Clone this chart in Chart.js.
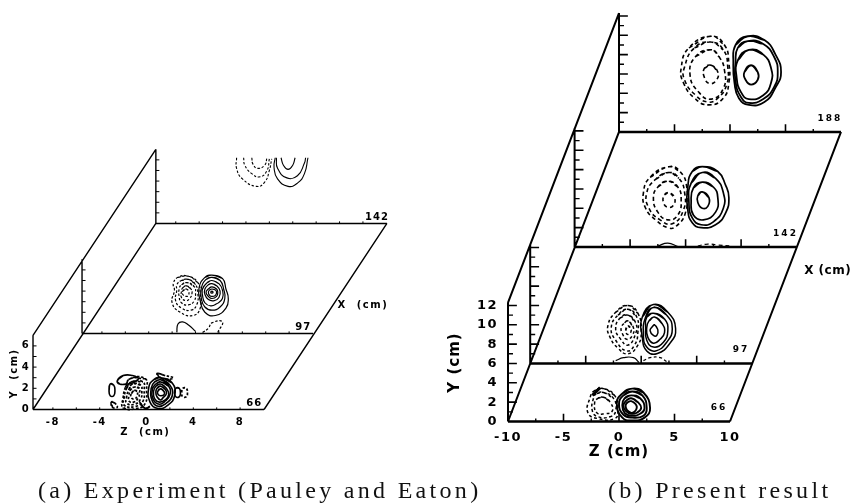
<!DOCTYPE html>
<html>
<head>
<meta charset="utf-8">
<title>Experiment and present result</title>
<script src="https://cdn.jsdelivr.net/npm/chart.js@4"></script>
<style>
body{margin:0;background:#fff;}
#wrap{position:relative;width:858px;height:503px;overflow:hidden;}
.cap{position:absolute;top:477px;font-family:"Liberation Serif",serif;font-size:24px;color:#111;white-space:pre;letter-spacing:3.3px;}
</style>
</head>
<body>
<div id="wrap">
<canvas id="plot" width="858" height="503"></canvas>
<div class="cap" style="left:38px">(a) Experiment (Pauley and Eaton)</div>
<div class="cap" style="left:608px">(b) Present result</div>
</div>
<script>
// tick labels
var leftZTicks=[-8,-4,0,4,8];
var leftYTicks=[0,2,4,6];
var rightZTicks=[-10,-5,0,5,10];
var rightYTicks=[0,2,4,6,8,10,12];
// tick marks
var leftZMarks=[-8,-6,-4,-2,0,2,4,6,8];
var leftYMarks=[1,2,3,4,5,6];
var rightZMajor=[-5,0,5];
var rightZMinor=[-7.5,-2.5,2.5,7.5];
var rightYMajor=[2,4,6,8,10,12];
var rightYMinor=[1,3,5,7,9,11];
// x stations and how far each plane sits from the first one on the page (cm of Z and Y)
var leftStations=["66","97","142"];
var leftShiftZ=[0,4.19,10.5];
var leftShiftY=[0,7.17,17.55];
var rightStations=["66","97","142","188"];
var rightShiftZ=[0,2,6,10];
var rightShiftY=[0,6,18.05,29.94];

// contours, [z,y] in cm on each plane
var left142Solid=[
	[[0.5,6.2],[0.4,5.3],[0.7,4.2],[1.6,3.5],[2.4,3.8],[3.0,4.7],[3.3,6.2]],
	[[0.6,6.2],[0.7,5.2],[1.5,4.3],[2.4,4.5],[3.0,5.7],[3.1,6.2]],
	[[1.0,6.2],[1.2,5.5],[1.6,5.1],[2.0,5.5],[2.2,6.2]]
];
var left142Dashed=[
	[[-2.8,6.2],[-2.8,5.2],[-2.3,4.2],[-1.1,3.5],[-0.4,3.9],[0,5.0],[0.2,6.1]],
	[[-2.2,6.2],[-2.1,5.5],[-1.5,4.7],[-0.8,4.4],[-0.2,5.0],[0,6.1]],
	[[-1.5,6.2],[-1.4,5.6],[-1.0,5.2],[-0.4,5.5],[-0.2,6.2]]
];
var left97Solid=[
	[[1.4,5.5],[2.3,5.2],[2.6,4.2],[2.8,3.3],[2.6,2.4],[1.7,1.7],[0.8,2.0],[0.4,3.1],[0.3,4.3],[0.8,5.3]],
	[[1.4,5.3],[2.1,5.0],[2.4,4.2],[2.5,3.3],[2.1,2.5],[1.4,2.2],[0.8,2.5],[0.5,3.3],[0.5,4.3],[0.9,5.1]],
	[[1.4,5.0],[2.0,4.7],[2.3,4.1],[2.3,3.3],[1.8,2.8],[1.3,2.6],[0.8,2.9],[0.6,3.6],[0.6,4.2],[1.0,4.8]],
	[[1.4,4.7],[1.8,4.5],[2.1,4.0],[2.0,3.4],[1.6,3.1],[1.1,3.2],[0.8,3.7],[0.8,4.2],[1.1,4.6]],
	[[1.4,4.4],[1.8,4.2],[1.9,3.9],[1.8,3.5],[1.4,3.3],[1.1,3.5],[0.9,3.9],[1.1,4.2]],
	[[1.4,4.2],[1.7,4.1],[1.8,3.9],[1.7,3.6],[1.4,3.5],[1.2,3.6],[1.1,3.9],[1.2,4.1]],
	[[1.4,4.0],[1.5,3.9],[1.4,3.8],[1.3,3.9]]
];
var left97Dashed=[
	[[-0.6,5.4],[0.2,4.8],[0.4,3.8],[0.4,2.4],[-0.2,1.7],[-1.3,2.0],[-2.0,2.9],[-1.8,4.1],[-1.9,4.7],[-1.5,5.3]],
	[[-0.6,5.1],[0,4.6],[0.2,3.8],[0.1,2.7],[-0.4,2.2],[-1.2,2.4],[-1.7,3.1],[-1.6,4.1],[-1.6,4.6],[-1.2,5.0]],
	[[-0.7,4.8],[-0.1,4.4],[0,3.8],[-0.1,3.1],[-0.6,2.7],[-1.2,2.9],[-1.4,3.5],[-1.4,4.2],[-1.2,4.6]],
	[[-0.8,4.5],[-0.4,4.2],[-0.3,3.8],[-0.5,3.3],[-0.8,3.1],[-1.2,3.4],[-1.2,4.0],[-1.1,4.3]],
	[[-0.8,4.2],[-0.6,4.0],[-0.6,3.6],[-0.8,3.5],[-1.1,3.7],[-1.1,4.0]]
];
var left97SolidOpen=[[[-1.6,0.1],[-1.5,0.9],[-1.1,1.1],[-0.6,0.8],[0,0.2]]];
var left97DashedOpen=[[[0.6,0.1],[1.1,0.5],[1.4,1.0],[2.3,1.1],[1.9,0.1]]];
var left66Solid=[
	[[1.2,3.0],[2.2,2.5],[2.4,1.3],[1.8,0.4],[1.0,0.1],[0.3,0.7],[0.2,2.1],[0.6,2.8]],
	[[1.2,2.8],[2.0,2.3],[2.2,1.3],[1.7,0.6],[1.0,0.3],[0.5,0.8],[0.4,2.0],[0.7,2.6]],
	[[1.2,2.6],[1.9,2.2],[2.0,1.4],[1.6,0.8],[1.1,0.5],[0.6,0.9],[0.5,1.9],[0.8,2.4]],
	[[1.2,2.4],[1.7,2.0],[1.9,1.4],[1.6,0.9],[1.1,0.7],[0.7,1.0],[0.6,1.7],[0.8,2.2]],
	[[1.2,2.2],[1.6,1.9],[1.7,1.5],[1.4,1.1],[1.2,0.9],[0.9,1.2],[0.8,1.6],[0.9,2.0]],
	[[1.2,1.95],[1.5,1.7],[1.5,1.4],[1.2,1.3],[1.0,1.4],[0.95,1.7]],
	[[-2.5,2.7],[-2.0,3.2],[-1.2,3.2],[-0.7,2.9],[-1.2,2.5],[-1.7,2.4],[-2.3,2.4]],
	[[-3.1,2.4],[-2.8,2.3],[-2.7,1.8],[-2.8,1.3],[-3.1,1.3],[-3.2,1.8]],
	[[2.5,2.0],[2.8,2.0],[2.9,1.5],[2.8,1.2],[2.5,1.2],[2.4,1.6]]
];
var left66Dashed=[
	[[-1.4,2.9],[-0.1,2.9],[0,1.8],[-0.1,0.6],[-0.8,0.1],[-2.0,0.2],[-2.0,1.1],[-1.8,2.1]],
	[[-1.3,2.6],[-0.3,2.6],[-0.2,1.8],[-0.3,0.8],[-0.9,0.3],[-1.9,0.4],[-1.9,1.2],[-1.7,2.0]],
	[[-1.2,2.4],[-0.5,2.3],[-0.4,1.7],[-0.5,1.0],[-1.0,0.5],[-1.7,0.6],[-1.7,1.2],[-1.5,1.9]],
	[[-1.1,2.1],[-0.6,2.0],[-0.6,1.6],[-0.7,1.1],[-1.1,0.7],[-1.5,0.8],[-1.5,1.3],[-1.4,1.8]],
	[[-1.0,1.8],[-0.8,1.7],[-0.8,1.3],[-1.0,1.0],[-1.3,1.1],[-1.3,1.5]],
	[[3.1,2.0],[3.4,2.0],[3.5,1.5],[3.4,1.2],[3.1,1.2],[3.0,1.6]],
	[[0.9,3.4],[1.6,3.2],[2.3,3.0],[2.2,2.9],[1.3,2.9]],
	[[-3.0,0.7],[-2.7,0.6],[-2.5,0.2],[-2.9,0.2]]
];
var left66SolidOpen=[[[-0.6,0.7],[-0.1,0.1],[0.3,0.3]]];

var right188Solid=[
	[[1.6,9.9],[3.1,9.5],[4.1,8.0],[4.6,6.2],[4.1,4.6],[3.1,3.1],[1.7,2.8],[0.8,3.5],[0.4,5.1],[0.3,7.1],[0.5,9.0]],
	[[1.6,9.4],[3.0,9.1],[4.0,7.7],[4.3,6.2],[4.0,4.7],[3.0,3.4],[1.7,3.0],[1.0,3.6],[0.5,5.2],[0.5,7.2],[0.7,8.7]],
	[[1.7,8.5],[3.0,8.0],[3.7,6.6],[3.7,5.1],[3.0,3.8],[1.7,3.4],[1.0,4.1],[0.6,5.6],[0.7,7.4]],
	[[1.9,6.9],[2.5,6.2],[2.5,5.4],[1.9,4.9],[1.4,5.4],[1.3,6.2]]
];
var right188Dashed=[
	[[-1.7,9.9],[-0.5,9.0],[-0.1,7.1],[-0.1,5.1],[-0.6,3.5],[-1.9,2.8],[-3.2,3.5],[-4.2,5.1],[-4.4,6.6],[-3.7,8.7]],
	[[-1.7,9.3],[-0.6,8.5],[-0.2,6.7],[-0.3,4.9],[-1.1,3.5],[-2.0,3.1],[-3.1,3.8],[-4.1,5.4],[-4.1,6.7],[-3.2,8.7]],
	[[-1.7,8.5],[-1.0,7.8],[-0.5,6.4],[-0.6,4.5],[-1.7,3.4],[-2.8,4.1],[-3.6,5.9],[-3.1,7.8]],
	[[-1.7,6.9],[-1.1,6.2],[-1.2,5.4],[-1.8,5.0],[-2.3,5.6],[-2.3,6.6]]
];
var right142Solid=[
	[[1.5,8.3],[2.9,7.8],[3.6,6.4],[3.9,5.1],[3.6,3.5],[2.7,2.3],[1.4,2.0],[0.6,2.5],[0.2,3.8],[0.2,6.2],[0.6,7.8]],
	[[1.5,7.7],[2.7,7.1],[3.4,5.6],[3.4,4.0],[2.5,2.6],[1.4,2.3],[0.6,3.0],[0.3,4.6],[0.5,6.6]],
	[[1.5,6.7],[2.5,6.2],[2.9,5.1],[2.7,3.6],[1.6,2.8],[0.7,3.3],[0.5,4.7],[0.7,6.1]],
	[[1.5,5.7],[2.1,5.1],[2.0,4.2],[1.5,4.0],[1.1,4.6],[1.1,5.3]]
];
var right142Dashed=[
	[[-1.5,8.3],[-0.5,7.8],[0.1,6.2],[0,3.6],[-0.9,2.1],[-1.6,2.0],[-2.7,2.8],[-3.6,4.0],[-3.8,5.6],[-3.2,7.2]],
	[[-1.5,7.7],[-0.6,7.1],[-0.1,5.7],[-0.2,3.8],[-1.2,2.4],[-2.3,2.8],[-3.3,4.0],[-3.5,5.6],[-2.7,7.0]],
	[[-1.6,6.8],[-0.7,6.2],[-0.4,4.9],[-0.7,3.3],[-1.6,2.8],[-2.5,3.6],[-2.9,5.1],[-2.5,6.2]],
	[[-1.5,5.6],[-1.0,5.1],[-1.1,4.3],[-1.6,4.1],[-2.0,4.6],[-1.9,5.4]]
];
var right142SolidOpen=[[[-2.5,0.1],[-1.6,0.4],[-0.7,0.05]]];
var right142DashedOpen=[[[1.1,0.1],[2.0,0.3],[2.9,0.2],[4.1,0.1]]];
var right97Solid=[
	[[1.1,6.1],[2.4,5.3],[3.1,3.6],[2.6,2.1],[1.4,1.0],[0.5,1.3],[0.1,2.7],[0.1,4.8]],
	[[1.1,5.8],[2.3,5.0],[2.8,3.6],[2.3,2.2],[1.3,1.3],[0.5,1.7],[0.2,2.9],[0.4,4.8]],
	[[1.1,5.2],[2.1,4.6],[2.4,3.4],[2.0,2.2],[1.1,1.7],[0.5,2.4],[0.4,3.7],[0.5,4.8]],
	[[1.2,4.8],[1.9,4.1],[2.1,3.2],[1.7,2.5],[1.1,2.1],[0.6,2.7],[0.5,3.7],[0.7,4.4]],
	[[1.2,4.0],[1.5,3.5],[1.4,2.9],[1.1,2.9],[0.8,3.4],[1.0,3.8]]
];
var right97Dashed=[
	[[-1.2,6.0],[-0.3,5.2],[0,3.2],[-0.3,1.9],[-1.2,1.0],[-2.1,1.6],[-2.8,2.7],[-3.0,3.9],[-2.3,5.3]],
	[[-1.2,5.6],[-0.4,4.8],[-0.3,3.2],[-0.6,1.9],[-1.3,1.3],[-2.3,2.4],[-2.7,3.7],[-2.1,5.0]],
	[[-1.2,5.0],[-0.5,4.2],[-0.5,3.1],[-1.2,1.9],[-1.9,2.6],[-2.3,3.6],[-1.9,4.7]],
	[[-1.2,4.4],[-0.7,3.7],[-0.8,2.9],[-1.3,2.5],[-1.7,3.1],[-1.8,3.7],[-1.5,4.2]],
	[[-1.2,3.9],[-0.9,3.4],[-1.2,3.0],[-1.4,3.4]]
];
var right97SolidOpen=[[[-2.3,0.3],[-1.6,0.6],[-0.7,0.6],[-0.2,0.1]]];
var right97DashedOpen=[[[0.2,0.3],[0.8,0.6],[1.7,0.6],[2.3,0.2]]];
var right66Solid=[
	[[1.2,3.4],[2.2,3.0],[2.8,1.4],[2.3,0.4],[1.2,0.1],[0.3,0.4],[-0.2,1.9],[0.3,2.9]],
	[[1.2,3.1],[2.1,2.7],[2.5,1.4],[2.2,0.6],[1.2,0.4],[0.4,0.7],[0,1.8],[0.4,2.7]],
	[[1.1,2.7],[1.9,2.4],[2.3,1.4],[1.9,0.8],[1.1,0.6],[0.5,0.9],[0.3,1.7],[0.5,2.4]],
	[[1.1,2.4],[1.7,2.0],[2.0,1.4],[1.6,0.9],[1.1,0.8],[0.6,1.1],[0.4,1.7],[0.7,2.2]],
	[[1.1,2.1],[1.5,1.8],[1.6,1.4],[1.4,1.0],[1.1,0.9],[0.7,1.2],[0.6,1.7],[0.8,2.0]]
];
var right66Dashed=[
	[[-1.4,3.4],[-0.4,2.7],[-0.1,1.1],[-0.4,0.3],[-1.9,0.3],[-2.8,0.9],[-2.6,2.5],[-2.2,3.2]],
	[[-1.4,3.0],[-0.5,2.4],[-0.3,1.1],[-0.8,0.5],[-1.9,0.5],[-2.4,1.1],[-2.3,2.4],[-2.0,2.9]],
	[[-1.4,2.5],[-0.8,2.0],[-0.6,1.1],[-1.3,0.8],[-2.0,0.9],[-2.2,1.9],[-1.9,2.4]]
];
var right66SolidOpen=[[[-2.4,2.7],[-1.7,3.5]]];

var datasets=[];

function segments(pairs,xId,yId,width){
	// pairs of points, joined two by two
	var pts=[];
	pairs.forEach(function(p){
		pts.push({x:p[0],y:p[1]},{x:p[2],y:p[3]},{x:null,y:null});
	});
	datasets.push({data:pts,xAxisID:xId,yAxisID:yId,showLine:true,spanGaps:false,borderColor:"#000",borderWidth:width,pointRadius:0,tension:0,clip:false});
}

function frame(shiftZ,shiftY,zFrom,zTo,top,xId,yId,width,baseWidth){
	var last=shiftZ.length-1;
	var lines=[];
	var bases=[];
	shiftZ.forEach(function(dz,i){
		bases.push([zFrom+dz,shiftY[i],zTo+dz,shiftY[i]]);
		lines.push([zFrom+dz,shiftY[i],zFrom+dz,shiftY[i]+top]);
	});
	lines.push([zFrom,0,zFrom+shiftZ[last],shiftY[last]]);
	lines.push([zTo,0,zTo+shiftZ[last],shiftY[last]]);
	lines.push([zFrom,top,zFrom+shiftZ[last],shiftY[last]+top]);
	segments(lines,xId,yId,width);
	segments(bases,xId,yId,baseWidth);
}

function tickMarks(shiftZ,shiftY,zFrom,zList,zLen,yList,yLen,xId,yId,width){
	var lines=[];
	shiftZ.forEach(function(dz,i){
		zList.forEach(function(z){
			lines.push([z+dz,shiftY[i],z+dz,shiftY[i]+zLen]);
		});
		yList.forEach(function(y){
			lines.push([zFrom+dz,y+shiftY[i],zFrom+dz+yLen,y+shiftY[i]]);
		});
	});
	segments(lines,xId,yId,width);
}

function contours(list,dz,dy,xId,yId,width,dash,closed){
	list.forEach(function(c){
		var pts=c.map(function(p){return {x:p[0]+dz,y:p[1]+dy};});
		if(closed){
			// run past the start so the spline has no corner where the loop meets
			pts=[pts[pts.length-1]].concat(pts,[pts[0],pts[1]]);
		}
		datasets.push({data:pts,xAxisID:xId,yAxisID:yId,showLine:true,borderColor:"#000",borderWidth:width,borderDash:dash,pointRadius:0,tension:0.5,clip:false});
	});
}

frame(leftShiftZ,leftShiftY,-9.7,10.05,7.0,"xLeft","yLeft",1.4,1.6);
tickMarks(leftShiftZ,leftShiftY,-9.7,leftZMarks,0.2,leftYMarks,0.3,"xLeft","yLeft",1);
frame(rightShiftZ,rightShiftY,-10,10,12.3,"xRight","yRight",2,2.6);
tickMarks(rightShiftZ,rightShiftY,-10,rightZMajor,0.8,rightYMajor,0.8,"xRight","yRight",1.6);
tickMarks(rightShiftZ,rightShiftY,-10,rightZMinor,0.3,rightYMinor,0.45,"xRight","yRight",1.4);

var leftDash=[2.5,1.8];
var rightDash=[4,3];
contours(left66Solid,0,0,"xLeft","yLeft",1.6,[],true);
contours(left66Dashed,0,0,"xLeft","yLeft",1.7,leftDash,true);
contours(left66SolidOpen,0,0,"xLeft","yLeft",2,[],false);
contours(left97Solid,leftShiftZ[1],leftShiftY[1],"xLeft","yLeft",1.2,[],true);
contours(left97Dashed,leftShiftZ[1],leftShiftY[1],"xLeft","yLeft",1.2,leftDash,true);
contours(left97SolidOpen,leftShiftZ[1],leftShiftY[1],"xLeft","yLeft",1.2,[],false);
contours(left97DashedOpen,leftShiftZ[1],leftShiftY[1],"xLeft","yLeft",1.2,leftDash,false);
contours(left142Solid,leftShiftZ[2],leftShiftY[2],"xLeft","yLeft",1.1,[],false);
contours(left142Dashed,leftShiftZ[2],leftShiftY[2],"xLeft","yLeft",1.1,leftDash,false);

contours(right66Solid,0,0,"xRight","yRight",1.9,[],true);
contours(right66Dashed,0,0,"xRight","yRight",1.5,[3,2.5],true);
contours(right66SolidOpen,0,0,"xRight","yRight",3,[],false);
contours(right97Solid,rightShiftZ[1],rightShiftY[1],"xRight","yRight",1.5,[],true);
contours(right97Dashed,rightShiftZ[1],rightShiftY[1],"xRight","yRight",1.5,[3,2.5],true);
contours(right97SolidOpen,rightShiftZ[1],rightShiftY[1],"xRight","yRight",1.2,[],false);
contours(right97DashedOpen,rightShiftZ[1],rightShiftY[1],"xRight","yRight",1.2,[3,2.5],false);
contours(right142Solid,rightShiftZ[2],rightShiftY[2],"xRight","yRight",1.7,[],true);
contours(right142Dashed,rightShiftZ[2],rightShiftY[2],"xRight","yRight",1.6,rightDash,true);
contours(right142SolidOpen,rightShiftZ[2],rightShiftY[2],"xRight","yRight",1.2,[],false);
contours(right142DashedOpen,rightShiftZ[2],rightShiftY[2],"xRight","yRight",1.2,rightDash,false);
contours(right188Solid,rightShiftZ[3],rightShiftY[3],"xRight","yRight",1.8,[],true);
contours(right188Dashed,rightShiftZ[3],rightShiftY[3],"xRight","yRight",1.6,rightDash,true);

// text that is not a tick label
var leftFont="bold 10px 'DejaVu Sans'";
var stationFont="bold 9px 'DejaVu Sans'";
var titleFont="bold 15px 'DejaVu Sans'";
var axisNotes=[
	{t:"Z  (cm)",x:-0.1,y:-2.2,sx:"xLeft",sy:"yLeft",f:leftFont,s:"1.5px"},
	{t:"Y  (cm)",x:-11.3,y:3.4,sx:"xLeft",sy:"yLeft",f:leftFont,s:"1.5px",rot:true},
	{t:"X  (cm)",x:18.5,y:9.8,sx:"xLeft",sy:"yLeft",f:leftFont,s:"1.5px"},
	{t:"Z (cm)",x:0,y:-3.2,sx:"xRight",sy:"yRight",f:titleFont,s:"1px"},
	{t:"Y (cm)",x:-14.8,y:6.1,sx:"xRight",sy:"yRight",f:titleFont,s:"1px",rot:true},
	{t:"X (cm)",x:18.8,y:15.6,sx:"xRight",sy:"yRight",f:"bold 12px 'DejaVu Sans'",s:"0.5px"}
];
leftStations.forEach(function(n,i){
	axisNotes.push({t:n,x:9.2+leftShiftZ[i],y:0.6+leftShiftY[i],sx:"xLeft",sy:"yLeft",f:leftFont,s:"1px"});
});
rightStations.forEach(function(n,i){
	axisNotes.push({t:n,x:9+rightShiftZ[i],y:1.4+rightShiftY[i],sx:"xRight",sy:"yRight",f:stationFont,s:"2px"});
});

var notesPlugin={
	id:"notes",
	beforeDraw:function(chart){
		chart.ctx.letterSpacing="1.5px";
	},
	afterDraw:function(chart){
		var ctx=chart.ctx;
		ctx.save();
		ctx.fillStyle="#000";
		ctx.textAlign="center";
		ctx.textBaseline="middle";
		axisNotes.forEach(function(n){
			var px=chart.scales[n.sx].getPixelForValue(n.x);
			var py=chart.scales[n.sy].getPixelForValue(n.y);
			ctx.font=n.f;
			ctx.letterSpacing=n.s;
			ctx.save();
			ctx.translate(px,py);
			if(n.rot){ctx.rotate(-Math.PI/2);}
			ctx.fillText(n.t,0,0);
			ctx.restore();
		});
		ctx.restore();
	}
};

function axis(axisPos,min,max,ticks,size,pad){
	return {
		type:"linear",
		position:axisPos,
		min:min,
		max:max,
		afterBuildTicks:function(scale){
			scale.ticks=ticks.map(function(v){return {value:v};});
		},
		afterFit:function(scale){
			// labels must not eat into the drawing area, every scale spans the whole canvas
			scale.paddingLeft=0;
			scale.paddingRight=0;
			scale.paddingTop=0;
			scale.paddingBottom=0;
		},
		ticks:{
			autoSkip:false,
			maxRotation:0,
			minRotation:0,
			padding:pad,
			color:"#000",
			font:{family:"'DejaVu Sans'",weight:"bold",size:size},
			callback:function(v){return String(v);}
		},
		grid:{display:false,drawTicks:false},
		border:{display:false}
	};
}

var chart=new Chart(document.getElementById("plot").getContext("2d"),{
	type:"scatter",
	data:{datasets:datasets},
	options:{
		responsive:false,
		animation:false,
		parsing:false,
		normalized:true,
		layout:{padding:0},
		plugins:{legend:{display:false},tooltip:{enabled:false},title:{display:false}},
		scales:{
			xLeft:axis({yLeft:0},-146.5/11.7,711.5/11.7,leftZTicks,10,7),
			yLeft:axis({xLeft:-9.95},-93.5/10.6,409.5/10.6,leftYTicks,10,3),
			xRight:axis({yRight:0},-619/11.1,239/11.1,rightZTicks,13,8.5),
			yRight:axis({xRight:-10.9},-81.5/9.67,421.5/9.67,rightYTicks,13,9)
		}
	},
	plugins:[notesPlugin]
});
</script>
</body>
</html>
